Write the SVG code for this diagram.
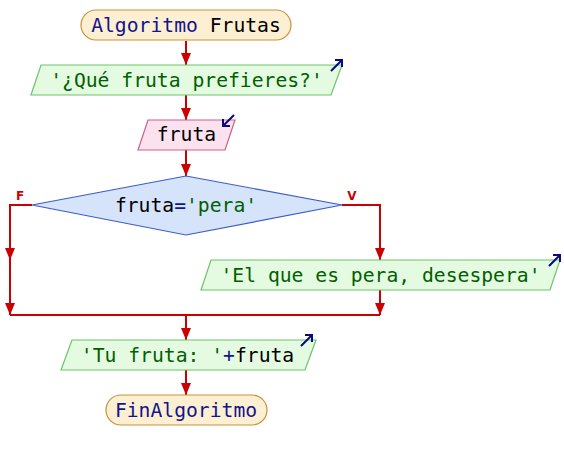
<svg xmlns="http://www.w3.org/2000/svg" width="564" height="460" viewBox="0 0 564 460">
<defs>
<style>
text{font-family:"DejaVu Sans Mono","Liberation Mono",monospace;font-size:19.7px;text-anchor:middle;fill:#000000}
.kw{fill:#14148c}
.str{fill:#006000}
.op{fill:#14148c}
.term{fill:#fdf0d2;stroke:#c8913a;stroke-width:1.2}
.out{fill:#e4fbe2;stroke:#6cc46a;stroke-width:1.2}
.inp{fill:#fce2ee;stroke:#c8608c;stroke-width:1.2}
.dec{fill:#d6e4fb;stroke:#3c5cc8;stroke-width:1.2}
.icon{stroke:#0a0a80;stroke-width:2;fill:none}
.conn{stroke:#cc0000;stroke-width:2;fill:none}
.lbl{font-family:"DejaVu Sans","Liberation Sans",sans-serif;font-size:12px;font-weight:bold;fill:#cc0000}
</style>
<marker id="ah" viewBox="0 0 12 10" refX="12" refY="5" markerWidth="12" markerHeight="10" markerUnits="userSpaceOnUse" orient="auto">
<path d="M0,0 L12,5 L0,10 Z" fill="#cc0000"/>
</marker>
</defs>
<rect width="564" height="460" fill="#ffffff"/>
<g id="connectors">
<path class="conn" d="M186,41 V65" marker-end="url(#ah)"/>
<path class="conn" d="M186,95 V120" marker-end="url(#ah)"/>
<path class="conn" d="M186,150 V176" marker-end="url(#ah)"/>
<path class="conn" d="M32,205 H10 V260" marker-end="url(#ah)"/>
<path class="conn" d="M10,258 V315" marker-end="url(#ah)"/>
<path class="conn" d="M342,205 H380 V260" marker-end="url(#ah)"/>
<path class="conn" d="M380,290 V315" marker-end="url(#ah)"/>
<path class="conn" d="M10,315 H380"/>
<path class="conn" d="M186,315 V340" marker-end="url(#ah)"/>
<path class="conn" d="M186,370 V395" marker-end="url(#ah)"/>
<text class="lbl" x="20" y="200">F</text>
<text class="lbl" x="352" y="200">V</text>
</g>
<g id="start">
<rect class="term" x="81" y="10" width="210" height="30" rx="15" ry="15"/>
<text x="186" y="32"><tspan class="kw">Algoritmo</tspan> Frutas</text>
</g>
<g id="out1">
<polygon class="out" points="41,65 342,65 331,95 31,95"/>
<path class="icon" d="M331,71 L342,60 M335,60 H342 V67"/>
<text x="186.5" y="87" class="str">'¿Qué fruta prefieres?'</text>
</g>
<g id="in1">
<polygon class="inp" points="148,120 235,120 225,150 138,150"/>
<path class="icon" d="M234,115 L223,126 M223,119 V126 H230"/>
<text x="186.5" y="141">fruta</text>
</g>
<g id="dec1">
<polygon class="dec" points="186,176 342,205 186,235 32,205"/>
<text x="186" y="211.5">fruta<tspan class="op">=</tspan><tspan class="str">'pera'</tspan></text>
</g>
<g id="out2">
<polygon class="out" points="211,260 560,260 550,290 201,290"/>
<path class="icon" d="M549,266 L560,255 M553,255 H560 V262"/>
<text x="380.5" y="281.5" class="str">'El que es pera, desespera'</text>
</g>
<g id="out3">
<polygon class="out" points="72,340 316,340 305,370 61,370"/>
<path class="icon" d="M301,346 L312,335 M305,335 H312 V342"/>
<text x="187.5" y="362"><tspan class="str">'Tu fruta: '</tspan><tspan class="op">+</tspan>fruta</text>
</g>
<g id="end">
<rect class="term" x="106" y="395" width="161" height="30" rx="15" ry="15"/>
<text x="186" y="416.5" class="kw">FinAlgoritmo</text>
</g>
</svg>
